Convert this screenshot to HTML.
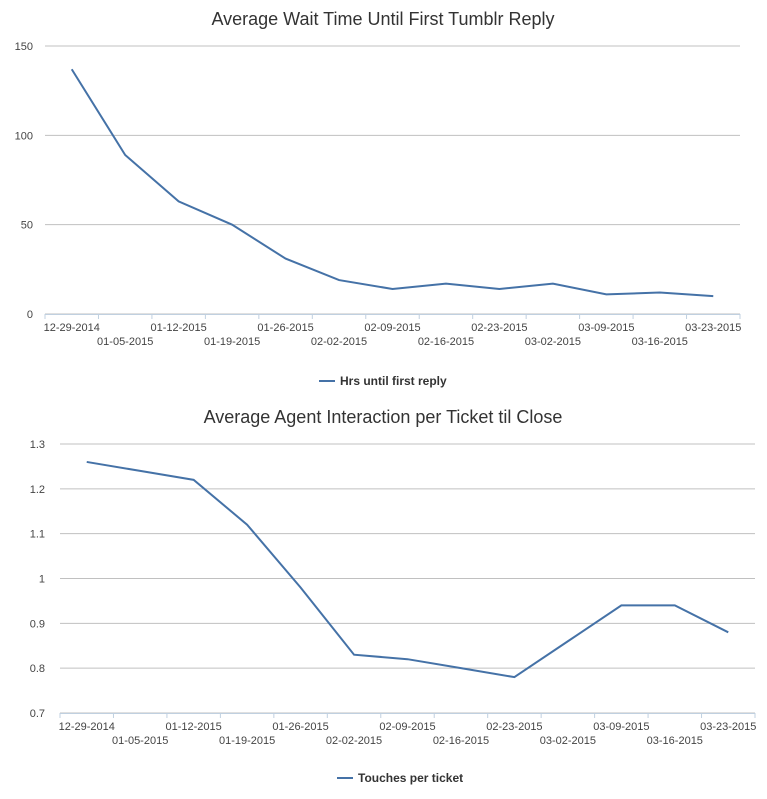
<!DOCTYPE html>
<html><head><meta charset="utf-8"><style>
body{margin:0;background:#fff;font-family:"Liberation Sans",sans-serif;}
svg text{font-family:"Liberation Sans",sans-serif;}
</style></head><body>
<svg id="svg" width="767" height="794" xmlns="http://www.w3.org/2000/svg"></svg>
<script>
const categories=["12-29-2014","01-05-2015","01-12-2015","01-19-2015","01-26-2015","02-02-2015","02-09-2015","02-16-2015","02-23-2015","03-02-2015","03-09-2015","03-16-2015","03-23-2015"];
const waitHours=[137,89,63,50,31,19,14,17,14,17,11,12,10];
const touches=[1.26,1.24,1.22,1.12,0.98,0.83,0.82,0.80,0.78,0.86,0.94,0.94,0.88];
const ticks1=[0,50,100,150];
const tickLabels1=["0","50","100","150"];
const ticks2=[0.7,0.8,0.9,1.0,1.1,1.2,1.3];
const tickLabels2=["0.7","0.8","0.9","1","1.1","1.2","1.3"];
const NS="http://www.w3.org/2000/svg";
const svg=document.getElementById('svg');
function mk(t,a,txt){const e=document.createElementNS(NS,t);for(const k in a)e.setAttribute(k,a[k]);if(txt!=null)e.textContent=txt;svg.appendChild(e);return e;}
function chart(o){
  const bw=(o.x1-o.x0)/categories.length;
  const xs=i=>o.x0+bw*(i+0.5);
  const ys=v=>o.yb-(v-o.min)/(o.max-o.min)*(o.yb-o.yt);
  let t=mk('text',{x:383,y:o.titleY,'text-anchor':'middle','font-size':18,fill:'#333'},o.title);
  
  
  o.ticks.forEach((v,i)=>{
    let g=mk('line',{x1:o.x0,x2:o.x1,y1:ys(v),y2:ys(v),stroke:'#c0c0c0','stroke-width':1});
    
    
    let l=mk('text',{x:o.labX,y:ys(v)+4,'text-anchor':'end','font-size':11,fill:'#444'},o.tickLabels[i]);
    
    
  });
  let ax=mk('line',{x1:o.x0,x2:o.x1,y1:o.yb+0.5,y2:o.yb+0.5,stroke:'#c0d0e0'});
  
  
  for(let i=0;i<=categories.length;i++){
    let tk=mk('line',{x1:o.x0+bw*i,x2:o.x0+bw*i,y1:o.yb,y2:o.yb+5,stroke:'#c0d0e0'});
    
    
  }
  categories.forEach((c,i)=>{
    let l=mk('text',{x:xs(i),y:o.yb+(i%2?31:17),'text-anchor':'middle','font-size':11,fill:'#444'},c);
    
    
  });
  const d=o.data.map((v,i)=>(i?'L':'M')+xs(i)+' '+ys(v)).join(' ');
  let p=mk('path',{d:d,fill:'none',stroke:'#4572a7','stroke-width':2});
  
  
  let ll=mk('line',{x1:o.legX,x2:o.legX+16,y1:o.legY-4,y2:o.legY-4,stroke:'#4572a7','stroke-width':2});
  
  
  let lt=mk('text',{x:o.legX+21,y:o.legY,'font-size':12,'font-weight':'bold',fill:'#333'},o.legend);
  
  
}
chart({id:'wait',title:'Average Wait Time Until First Tumblr Reply',titleY:25,x0:45,x1:740,yt:46,yb:314,min:0,max:150,ticks:ticks1,tickLabels:tickLabels1,labX:33,data:waitHours,legX:319,legY:385,legend:'Hrs until first reply'});
chart({id:'touch',title:'Average Agent Interaction per Ticket til Close',titleY:423,x0:60,x1:755,yt:444,yb:713,min:0.7,max:1.3,ticks:ticks2,tickLabels:tickLabels2,labX:45,data:touches,legX:337,legY:782,legend:'Touches per ticket'});
</script>
</body></html>
